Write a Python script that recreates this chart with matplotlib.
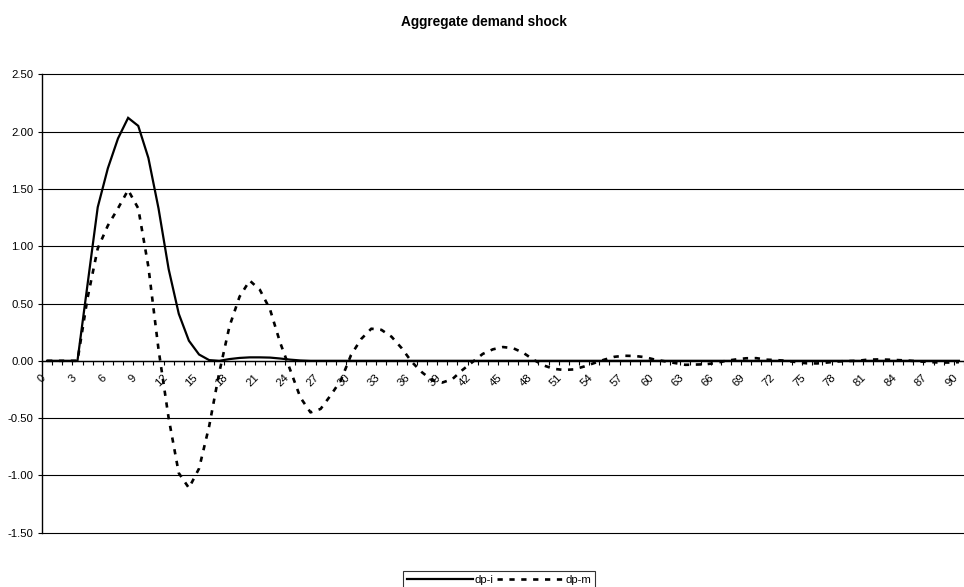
import matplotlib
matplotlib.use("Agg")
import matplotlib.pyplot as plt
import matplotlib.transforms as mtransforms
import numpy as np

plt.rcParams['font.family'] = ['Liberation Sans', 'DejaVu Sans']

periods = list(range(0, 91))
dp_i = [0, 0, 0, 0, 0.67, 1.34, 1.68, 1.94, 2.12, 2.05,
        1.77, 1.33, 0.80, 0.41, 0.175, 0.055, 0.006, 0.0, 0.015, 0.025,
        0.03, 0.03, 0.028, 0.02, 0.01, 0.003] + [0.0] * 65
dp_m = [0, 0, 0, 0, 0.55, 0.98, 1.18, 1.33, 1.49, 1.33,
        0.82, 0.10, -0.50, -0.98, -1.11, -0.94, -0.57, -0.10, 0.30, 0.56,
        0.70, 0.62, 0.45, 0.16, -0.08, -0.32, -0.45, -0.42, -0.30, -0.17,
        0.05, 0.19, 0.28, 0.27, 0.21, 0.11, -0.01, -0.10, -0.17, -0.19,
        -0.16, -0.08, -0.01, 0.06, 0.10, 0.12, 0.11, 0.07, 0.01, -0.04,
        -0.07, -0.08, -0.075, -0.05, -0.02, 0.01, 0.035, 0.044, 0.042, 0.032,
        0.01, -0.005, -0.02, -0.035, -0.033, -0.03, -0.02, 0.0, 0.012, 0.022,
        0.023, 0.01, 0.006, 0.0, -0.012, -0.022, -0.023, -0.015, -0.006, -0.002,
        0.0, 0.01, 0.012, 0.01, 0.006, 0.002, -0.005, -0.01, -0.015, -0.015,
        -0.012]
x_label_ticks = list(range(0, 91, 3))
y_ticks = [-1.5, -1.0, -0.5, 0.0, 0.5, 1.0, 1.5, 2.0, 2.5]
title = "Aggregate demand shock"
series_names = ["dp-i", "dp-m"]

W, H = 964, 587
fig = plt.figure(figsize=(W / 100, H / 100), dpi=100)
left, right, top, bottom = 42, 964, 74.3, 532.7
ax = fig.add_axes([left / W, 1 - bottom / H, (right - left) / W, (bottom - top) / H])

fs = 8.2
ax.plot(periods, dp_i, color='black', lw=1.6, solid_joinstyle='miter', label=series_names[0])
ax.plot(periods, dp_m, color='black', lw=1.9, linestyle=(0, (2, 2.5)), label=series_names[1])

ax.set_xlim(-0.5, 90.5)
ax.set_ylim(-1.5, 2.5)
ax.set_yticks(y_ticks)
ax.set_yticklabels([f"{v:.2f}" for v in y_ticks], fontsize=fs)
ax.yaxis.grid(True, color='black', lw=0.8)
for gl in ax.get_ygridlines():
    gl.set_clip_on(False)
ax.tick_params(axis='y', length=3, width=0.8, direction='out', pad=3, colors='black')

for s in ['top', 'right']:
    ax.spines[s].set_visible(False)
ax.spines['left'].set_linewidth(1.0)
ax.spines['bottom'].set_position(('data', 0))
ax.spines['bottom'].set_linewidth(1.0)

ax.set_xticks(x_label_ticks)
ax.set_xticklabels([str(v) for v in x_label_ticks], fontsize=fs, rotation=45,
                   ha='right', va='center', rotation_mode='anchor')
ax.set_xticks(np.arange(-0.5, 91, 1.0), minor=True)
ax.tick_params(axis='x', which='major', length=0, pad=11)
ax.tick_params(axis='x', which='minor', length=3, width=0.8, direction='out')
offset = mtransforms.ScaledTranslation(-3 / 100, 0, fig.dpi_scale_trans)
for lab in ax.get_xticklabels():
    lab.set_transform(lab.get_transform() + offset)

ax.set_axisbelow(False)

fig.text(0.502, 1 - 22 / H, title, ha='center', va='center', fontsize=9.8, fontweight='bold')

leg = fig.legend(loc='upper center', bbox_to_anchor=(499 / W, 1 - 571 / H), ncol=2,
                 fontsize=fs, frameon=True, fancybox=False, edgecolor='black',
                 handlelength=5.8, handletextpad=0.15, columnspacing=0.3,
                 borderpad=0.35, borderaxespad=0)
leg.get_frame().set_linewidth(0.8)

fig.savefig("out.png", dpi=100, facecolor='white')
